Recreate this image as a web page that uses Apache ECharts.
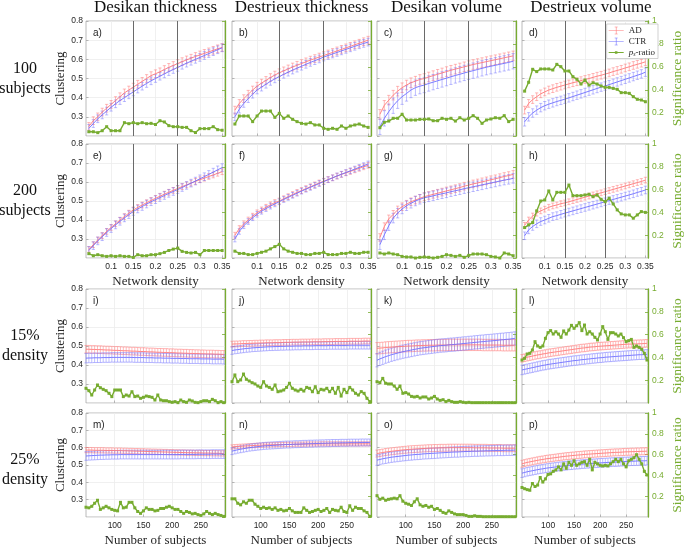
<!DOCTYPE html>
<html><head><meta charset="utf-8">
<script src="https://cdn.jsdelivr.net/npm/echarts@6/dist/echarts.min.js"></script>
<style>html,body{margin:0;padding:0;background:#fff}#c{width:685px;height:548px}</style>
</head><body><div id="c"></div>
<script>
// ---------- DATA ----------
const colTitles = ['Desikan thickness','Destrieux thickness','Desikan volume','Destrieux volume'];
const rowTitles = ['100\nsubjects','200\nsubjects','15%\ndensity','25%\ndensity'];
const panelLabels = ['a)','b)','c)','d)','e)','f)','g)','h)','i)','j)','k)','l)','m)','n)','o)','p)'];
const density = [0.05,0.06,0.07,0.08,0.09,0.10,0.11,0.12,0.13,0.14,0.15,0.16,0.17,0.18,0.19,0.20,0.21,0.22,0.23,0.24,0.25,0.26,0.27,0.28,0.29,0.30,0.31,0.32,0.33,0.34,0.35];
const subjects = [50,55,60,65,70,75,80,85,90,95,100,105,110,115,120,125,130,135,140,145,150,155,160,165,170,175,180,185,190,195,200,205,210,215,220,225,230,235,240,245,250,255,260,265,270,275,280,285,290];
const densityTicks = [0.1,0.15,0.2,0.25,0.3,0.35];
const subjectTicks = [100,150,200,250];
const densityMarks = [0.15,0.25];

// row 1: 100 subjects
const adA = [0.25,0.28,0.30,0.325,0.345,0.365,0.385,0.405,0.425,0.44,0.455,0.47,0.485,0.50,0.515,0.525,0.535,0.547,0.558,0.568,0.578,0.588,0.597,0.606,0.615,0.623,0.631,0.639,0.647,0.655,0.662];
const ctrA = [0.24,0.265,0.29,0.31,0.33,0.35,0.368,0.385,0.40,0.415,0.43,0.445,0.46,0.474,0.488,0.50,0.512,0.524,0.536,0.547,0.558,0.569,0.58,0.59,0.60,0.61,0.62,0.63,0.64,0.65,0.66];
const psA = [0.037,0.037,0.029,0.046,0.081,0.046,0.046,0.046,0.116,0.107,0.116,0.107,0.116,0.107,0.11,0.1,0.133,0.122,0.09,0.081,0.081,0.075,0.075,0.046,0.03,0.064,0.064,0.064,0.081,0.055,0.05];
const adB = [0.335,0.37,0.395,0.418,0.44,0.46,0.476,0.49,0.505,0.518,0.53,0.54,0.55,0.56,0.569,0.578,0.587,0.596,0.604,0.612,0.62,0.628,0.636,0.644,0.652,0.66,0.668,0.676,0.684,0.692,0.70];
const ctrB = [0.30,0.34,0.37,0.395,0.418,0.44,0.455,0.47,0.485,0.498,0.51,0.522,0.533,0.544,0.554,0.564,0.574,0.584,0.593,0.602,0.612,0.62,0.628,0.636,0.644,0.652,0.66,0.668,0.676,0.683,0.69];
const psB = [0.104,0.174,0.174,0.174,0.125,0.174,0.217,0.217,0.217,0.162,0.197,0.154,0.174,0.145,0.125,0.11,0.104,0.116,0.096,0.096,0.067,0.058,0.067,0.058,0.087,0.067,0.087,0.096,0.104,0.087,0.075];
const adC = [0.313,0.36,0.387,0.413,0.434,0.452,0.466,0.478,0.486,0.495,0.50,0.508,0.515,0.522,0.529,0.536,0.543,0.549,0.555,0.561,0.567,0.573,0.578,0.583,0.588,0.593,0.598,0.603,0.608,0.613,0.618];
const ctrC = [0.248,0.292,0.327,0.358,0.384,0.405,0.422,0.44,0.452,0.46,0.466,0.474,0.481,0.488,0.495,0.502,0.509,0.516,0.522,0.529,0.535,0.541,0.547,0.553,0.559,0.564,0.569,0.574,0.579,0.584,0.59];
const psC = [0.072,0.119,0.13,0.154,0.154,0.189,0.139,0.139,0.139,0.145,0.145,0.148,0.133,0.133,0.154,0.145,0.154,0.13,0.159,0.139,0.154,0.177,0.154,0.11,0.139,0.148,0.159,0.154,0.177,0.125,0.145];
const adD = [0.335,0.37,0.39,0.405,0.42,0.43,0.44,0.447,0.454,0.46,0.466,0.472,0.478,0.483,0.489,0.495,0.5,0.506,0.512,0.517,0.523,0.529,0.536,0.542,0.548,0.555,0.561,0.568,0.574,0.58,0.587];
const ctrD = [0.274,0.30,0.32,0.335,0.348,0.358,0.366,0.373,0.38,0.386,0.392,0.399,0.406,0.413,0.42,0.427,0.434,0.441,0.448,0.455,0.461,0.468,0.475,0.482,0.489,0.496,0.503,0.51,0.517,0.524,0.533];
const psD = [0.39,0.467,0.58,0.56,0.583,0.583,0.583,0.574,0.623,0.603,0.565,0.565,0.516,0.493,0.452,0.487,0.443,0.463,0.452,0.435,0.423,0.423,0.414,0.406,0.377,0.377,0.371,0.342,0.319,0.313,0.298];
// row 2: 200 subjects
const adE = [0.245,0.27,0.295,0.318,0.34,0.361,0.38,0.399,0.418,0.436,0.453,0.466,0.479,0.491,0.503,0.514,0.525,0.536,0.546,0.556,0.566,0.576,0.585,0.594,0.603,0.612,0.62,0.629,0.637,0.646,0.654];
const ctrE = [0.24,0.265,0.29,0.312,0.334,0.355,0.374,0.393,0.411,0.428,0.445,0.458,0.471,0.484,0.496,0.507,0.518,0.529,0.54,0.55,0.56,0.571,0.582,0.594,0.605,0.617,0.628,0.64,0.652,0.664,0.676];
const psE = [0.038,0.02,0.029,0.02,0.014,0.02,0.014,0.02,0.014,0.014,0.005,0.029,0.02,0.02,0.029,0.029,0.038,0.049,0.066,0.078,0.087,0.058,0.049,0.044,0.049,0.029,0.066,0.066,0.066,0.066,0.066];
const adF = [0.32,0.355,0.38,0.40,0.42,0.438,0.453,0.467,0.48,0.492,0.50,0.512,0.523,0.534,0.545,0.555,0.565,0.575,0.585,0.595,0.604,0.613,0.622,0.631,0.64,0.648,0.656,0.664,0.672,0.68,0.688];
const ctrF = [0.30,0.34,0.37,0.392,0.412,0.43,0.446,0.46,0.473,0.485,0.496,0.508,0.519,0.53,0.541,0.552,0.562,0.572,0.582,0.592,0.602,0.612,0.622,0.632,0.641,0.65,0.659,0.668,0.677,0.686,0.695];
const psF = [0.06,0.04,0.04,0.03,0.03,0.04,0.05,0.06,0.08,0.1,0.12,0.08,0.06,0.05,0.04,0.04,0.03,0.03,0.04,0.04,0.05,0.03,0.03,0.03,0.04,0.04,0.05,0.04,0.04,0.05,0.05];
const adG = [0.308,0.365,0.406,0.43,0.453,0.47,0.483,0.496,0.505,0.514,0.523,0.529,0.535,0.541,0.547,0.553,0.559,0.565,0.571,0.578,0.584,0.59,0.595,0.601,0.606,0.612,0.617,0.623,0.629,0.634,0.64];
const ctrG = [0.27,0.322,0.37,0.41,0.436,0.458,0.475,0.488,0.5,0.509,0.517,0.522,0.527,0.533,0.538,0.543,0.549,0.554,0.559,0.565,0.57,0.575,0.58,0.585,0.59,0.595,0.6,0.605,0.61,0.614,0.619];
const psG = [0.044,0.035,0.044,0.035,0.029,0.014,0.009,0.009,0,0.006,0.009,0.006,0,0.006,0.014,0.029,0.023,0.014,0.023,0.006,0.023,0.035,0.035,0.035,0.029,0.014,0.009,0,0.044,0.035,0.02];
const adH = [0.372,0.40,0.421,0.436,0.448,0.457,0.467,0.474,0.479,0.486,0.49,0.496,0.502,0.508,0.514,0.52,0.526,0.532,0.538,0.543,0.549,0.555,0.561,0.567,0.573,0.579,0.585,0.591,0.597,0.603,0.61];
const ctrH = [0.317,0.348,0.366,0.38,0.392,0.40,0.409,0.418,0.423,0.43,0.436,0.442,0.448,0.454,0.46,0.466,0.472,0.478,0.484,0.49,0.496,0.502,0.508,0.514,0.52,0.526,0.532,0.538,0.545,0.551,0.558];
const psH = [0.267,0.291,0.311,0.413,0.5,0.509,0.588,0.509,0.576,0.576,0.576,0.64,0.547,0.547,0.547,0.553,0.559,0.538,0.553,0.515,0.494,0.524,0.474,0.422,0.387,0.378,0.378,0.349,0.378,0.407,0.40];
// row 3: 15% density
const adI = [0.483,0.483,0.482,0.482,0.481,0.481,0.480,0.479,0.479,0.478,0.477,0.477,0.476,0.475,0.475,0.474,0.473,0.473,0.472,0.471,0.471,0.470,0.469,0.469,0.468,0.467,0.467,0.466,0.466,0.465,0.465,0.464,0.463,0.463,0.462,0.462,0.461,0.461,0.460,0.460,0.459,0.459,0.458,0.458,0.458,0.457,0.457,0.456,0.456];
const ctrI = [0.436,0.437,0.437,0.438,0.438,0.438,0.439,0.439,0.439,0.440,0.440,0.440,0.440,0.440,0.440,0.440,0.440,0.439,0.439,0.439,0.439,0.438,0.438,0.438,0.437,0.437,0.437,0.436,0.436,0.436,0.435,0.435,0.435,0.434,0.434,0.434,0.433,0.433,0.433,0.433,0.432,0.432,0.432,0.432,0.431,0.431,0.431,0.431,0.430];
const psI = [0.129,0.108,0.07,0.114,0.158,0.134,0.12,0.108,0.085,0.056,0.114,0.114,0.114,0.056,0.07,0.061,0.099,0.056,0.061,0.041,0.05,0.061,0.056,0.05,0.026,0.07,0.026,0.02,0.02,0.012,0.006,0.012,0.003,0.026,0.012,0.006,0.026,0.018,0.006,0.003,0.012,0.02,0.02,0.012,0.032,0.02,0.003,0.012,0.003];
const adJ = [0.510,0.511,0.511,0.512,0.513,0.513,0.514,0.514,0.515,0.515,0.516,0.516,0.517,0.517,0.517,0.518,0.518,0.518,0.519,0.519,0.519,0.520,0.520,0.520,0.521,0.521,0.521,0.521,0.522,0.522,0.522,0.522,0.523,0.523,0.523,0.523,0.524,0.524,0.524,0.524,0.524,0.525,0.525,0.525,0.525,0.525,0.526,0.526,0.526];
const ctrJ = [0.476,0.479,0.481,0.483,0.485,0.487,0.488,0.490,0.491,0.492,0.493,0.494,0.495,0.496,0.496,0.497,0.497,0.498,0.498,0.499,0.499,0.499,0.500,0.500,0.500,0.501,0.501,0.501,0.501,0.502,0.502,0.502,0.502,0.502,0.503,0.503,0.503,0.503,0.503,0.503,0.503,0.504,0.504,0.504,0.504,0.504,0.504,0.504,0.504];
const psJ = [0.187,0.246,0.187,0.202,0.254,0.208,0.193,0.178,0.167,0.149,0.137,0.187,0.149,0.137,0.12,0.158,0.099,0.105,0.114,0.137,0.173,0.129,0.114,0.105,0.12,0.105,0.137,0.129,0.099,0.143,0.091,0.12,0.114,0.129,0.099,0.129,0.085,0.137,0.061,0.12,0.091,0.137,0.114,0.085,0.07,0.1,0.085,0.041,0.012];
const adK = [0.488,0.489,0.490,0.492,0.493,0.494,0.495,0.496,0.497,0.498,0.499,0.500,0.500,0.501,0.502,0.502,0.503,0.503,0.504,0.504,0.504,0.505,0.505,0.505,0.505,0.506,0.506,0.506,0.506,0.506,0.506,0.506,0.506,0.506,0.506,0.506,0.506,0.505,0.505,0.505,0.505,0.505,0.505,0.505,0.504,0.504,0.504,0.504,0.504];
const ctrK = [0.425,0.432,0.438,0.444,0.449,0.454,0.458,0.462,0.466,0.470,0.473,0.476,0.479,0.482,0.485,0.488,0.490,0.492,0.494,0.496,0.498,0.500,0.502,0.503,0.504,0.506,0.507,0.508,0.510,0.511,0.513,0.514,0.516,0.517,0.519,0.520,0.522,0.523,0.525,0.526,0.527,0.529,0.530,0.532,0.533,0.535,0.536,0.538,0.540];
const psK = [0.187,0.178,0.216,0.173,0.167,0.167,0.149,0.12,0.149,0.085,0.091,0.079,0.058,0.053,0.058,0.044,0.053,0.053,0.035,0.044,0.058,0.035,0.023,0.029,0.012,0.023,0.012,0.006,0.006,0.012,0.006,0.003,0.006,0.003,0.003,0.003,0.003,0.003,0.003,0.003,0.003,0.003,0.003,0.003,0.003,0.003,0.003,0.003,0.003];
const adL = [0.435,0.438,0.441,0.444,0.447,0.450,0.453,0.455,0.458,0.460,0.463,0.465,0.467,0.469,0.471,0.473,0.475,0.477,0.479,0.481,0.483,0.485,0.487,0.489,0.490,0.492,0.494,0.495,0.496,0.498,0.499,0.500,0.501,0.502,0.503,0.504,0.505,0.506,0.507,0.508,0.509,0.510,0.510,0.511,0.511,0.512,0.512,0.513,0.514];
const ctrL = [0.374,0.377,0.380,0.383,0.386,0.389,0.392,0.395,0.398,0.400,0.403,0.405,0.407,0.409,0.411,0.413,0.415,0.417,0.419,0.421,0.423,0.424,0.426,0.428,0.429,0.431,0.432,0.434,0.435,0.437,0.438,0.439,0.441,0.442,0.443,0.444,0.445,0.446,0.447,0.448,0.449,0.450,0.451,0.452,0.453,0.454,0.454,0.455,0.456];
const psL = [0.377,0.392,0.43,0.436,0.465,0.538,0.5,0.488,0.5,0.567,0.617,0.635,0.605,0.625,0.605,0.576,0.632,0.605,0.64,0.681,0.655,0.678,0.705,0.635,0.684,0.605,0.625,0.605,0.576,0.553,0.605,0.67,0.625,0.558,0.617,0.617,0.605,0.588,0.605,0.573,0.538,0.547,0.558,0.488,0.5,0.488,0.471,0.436,0.377];
// row 4: 25% density
const adM = [0.586,0.586,0.586,0.585,0.585,0.585,0.585,0.584,0.584,0.584,0.583,0.583,0.583,0.582,0.582,0.581,0.581,0.580,0.580,0.579,0.579,0.578,0.578,0.577,0.577,0.576,0.576,0.575,0.575,0.574,0.574,0.573,0.573,0.572,0.572,0.571,0.571,0.571,0.570,0.570,0.570,0.569,0.569,0.569,0.568,0.568,0.568,0.567,0.567];
const ctrM = [0.552,0.553,0.554,0.555,0.556,0.557,0.557,0.558,0.558,0.559,0.559,0.559,0.560,0.560,0.560,0.560,0.560,0.560,0.560,0.560,0.560,0.560,0.560,0.560,0.560,0.560,0.560,0.560,0.560,0.560,0.560,0.560,0.560,0.561,0.561,0.561,0.561,0.561,0.561,0.562,0.562,0.562,0.562,0.562,0.563,0.563,0.563,0.563,0.563];
const psM = [0.094,0.088,0.103,0.132,0.161,0.073,0.088,0.103,0.088,0.073,0.064,0.059,0.141,0.088,0.094,0.141,0.141,0.088,0.053,0.035,0.059,0.088,0.073,0.073,0.059,0.064,0.082,0.082,0.094,0.103,0.088,0.073,0.073,0.053,0.035,0.053,0.044,0.03,0.035,0.023,0.015,0.03,0.053,0.035,0.023,0.035,0.023,0.015,0.006];
const adN = [0.604,0.606,0.607,0.608,0.609,0.610,0.611,0.612,0.613,0.614,0.614,0.615,0.616,0.616,0.617,0.617,0.618,0.618,0.618,0.619,0.619,0.619,0.620,0.620,0.620,0.620,0.621,0.621,0.621,0.621,0.621,0.622,0.622,0.622,0.622,0.622,0.622,0.622,0.622,0.622,0.622,0.622,0.622,0.622,0.622,0.622,0.622,0.622,0.622];
const ctrN = [0.580,0.584,0.588,0.591,0.594,0.597,0.600,0.602,0.604,0.606,0.608,0.610,0.611,0.612,0.613,0.614,0.615,0.616,0.617,0.618,0.618,0.619,0.620,0.620,0.621,0.622,0.622,0.623,0.623,0.624,0.624,0.625,0.625,0.626,0.626,0.627,0.627,0.627,0.628,0.628,0.628,0.629,0.629,0.629,0.629,0.630,0.630,0.630,0.630];
const psN = [0.175,0.175,0.132,0.117,0.146,0.132,0.161,0.161,0.123,0.103,0.082,0.094,0.082,0.088,0.073,0.088,0.064,0.073,0.059,0.064,0.082,0.059,0.044,0.044,0.044,0.088,0.064,0.044,0.053,0.064,0.073,0.053,0.064,0.082,0.044,0.073,0.064,0.059,0.094,0.053,0.044,0.108,0.064,0.094,0.082,0.082,0.059,0.044,0.006];
const adO = [0.566,0.569,0.572,0.575,0.577,0.579,0.581,0.583,0.585,0.587,0.588,0.590,0.591,0.592,0.593,0.594,0.595,0.596,0.597,0.597,0.598,0.598,0.599,0.599,0.599,0.600,0.600,0.600,0.600,0.600,0.600,0.600,0.600,0.600,0.599,0.599,0.599,0.599,0.599,0.598,0.598,0.598,0.598,0.598,0.597,0.597,0.597,0.597,0.597];
const ctrO = [0.528,0.532,0.536,0.539,0.542,0.545,0.547,0.549,0.551,0.553,0.555,0.557,0.558,0.560,0.561,0.562,0.564,0.565,0.566,0.567,0.568,0.569,0.570,0.571,0.572,0.573,0.574,0.575,0.575,0.576,0.577,0.578,0.578,0.579,0.580,0.580,0.581,0.581,0.582,0.582,0.583,0.583,0.584,0.584,0.584,0.585,0.585,0.585,0.586];
const psO = [0.205,0.17,0.181,0.161,0.17,0.175,0.181,0.175,0.205,0.152,0.132,0.123,0.111,0.146,0.175,0.117,0.103,0.111,0.094,0.103,0.073,0.082,0.064,0.044,0.035,0.059,0.044,0.03,0.023,0.023,0.023,0.015,0.006,0.006,0.012,0.006,0.006,0.003,0.003,0.003,0.003,0.003,0.003,0.003,0.003,0.003,0.003,0.003,0.003];
const adP = [0.507,0.511,0.515,0.518,0.521,0.524,0.527,0.530,0.532,0.535,0.537,0.539,0.541,0.543,0.545,0.547,0.549,0.551,0.552,0.554,0.555,0.557,0.558,0.559,0.561,0.562,0.563,0.564,0.565,0.566,0.567,0.568,0.569,0.570,0.571,0.572,0.573,0.573,0.574,0.575,0.576,0.576,0.577,0.577,0.578,0.578,0.579,0.579,0.580];
const ctrP = [0.453,0.457,0.461,0.464,0.467,0.470,0.473,0.476,0.478,0.481,0.483,0.485,0.487,0.489,0.491,0.493,0.495,0.496,0.498,0.499,0.501,0.502,0.503,0.505,0.506,0.507,0.508,0.509,0.510,0.511,0.512,0.513,0.514,0.515,0.516,0.517,0.517,0.518,0.519,0.520,0.520,0.521,0.522,0.522,0.523,0.523,0.524,0.524,0.525];
const psP = [0.284,0.272,0.263,0.257,0.322,0.293,0.307,0.38,0.336,0.366,0.409,0.415,0.439,0.453,0.482,0.453,0.511,0.468,0.526,0.497,0.541,0.497,0.511,0.526,0.532,0.497,0.555,0.453,0.526,0.511,0.497,0.491,0.497,0.491,0.511,0.532,0.555,0.532,0.555,0.511,0.482,0.541,0.555,0.57,0.599,0.555,0.511,0.439,0.404];

// error bar half-lengths per panel a..p
const adErr  = [0.02,0.02,0.025,0.02, 0.015,0.015,0.02,0.015, 0.02,0.015,0.03,0.02, 0.015,0.012,0.02,0.02];
const ctrErr = [0.02,0.02,0.04,0.022, 0.02,0.015,0.025,0.02, 0.025,0.02,0.035,0.025, 0.025,0.02,0.03,0.025];

// ---------- BUILD ----------
const AD = [adA,adB,adC,adD,adE,adF,adG,adH,adI,adJ,adK,adL,adM,adN,adO,adP];
const CTR = [ctrA,ctrB,ctrC,ctrD,ctrE,ctrF,ctrG,ctrH,ctrI,ctrJ,ctrK,ctrL,ctrM,ctrN,ctrO,ctrP];
const PS = [psA,psB,psC,psD,psE,psF,psG,psH,psI,psJ,psK,psL,psM,psN,psO,psP];

const colLeft = [86,232,377,522], colW = [139,139,139,138];
const rowTop = [21,144,289,413], rowH = [115,114,114,114];
const SANS = 'Liberation Sans', SERIF = 'Liberation Serif';
const GREEN = '#77AC30', TXT = '#262626';
const AD_LINE = '#ff7878', AD_BAR = 'rgba(255,110,110,0.6)';
const CTR_LINE = '#6e6eff', CTR_BAR = 'rgba(105,105,255,0.55)';

function errItem(color){
  return function(params, api){
    const x = api.value(0), y = api.value(1), e = api.value(2);
    const lo = api.coord([x, y - e]), hi = api.coord([x, y + e]);
    const w = 1.6;
    const st = {stroke: color, lineWidth: 0.8};
    return {type:'group', children:[
      {type:'line', shape:{x1:lo[0],y1:lo[1],x2:hi[0],y2:hi[1]}, style:st},
      {type:'line', shape:{x1:lo[0]-w,y1:lo[1],x2:lo[0]+w,y2:lo[1]}, style:st},
      {type:'line', shape:{x1:hi[0]-w,y1:hi[1],x2:hi[0]+w,y2:hi[1]}, style:st}
    ]};
  };
}

const grids = [], xAxes = [], yAxes = [], series = [], graphics = [];
for (let p = 0; p < 16; p++) {
  const r = Math.floor(p / 4), c = p % 4;
  const xs = r < 2 ? density : subjects;
  const ticks = r < 2 ? densityTicks : subjectTicks;
  grids.push({left: colLeft[c], top: rowTop[r], width: colW[c], height: rowH[r],
    show: true, borderColor: '#a8a8a8', borderWidth: 0.8, backgroundColor: '#fff'});
  xAxes.push({gridIndex: p, type: 'value',
    min: r < 2 ? 0.0435 : 50, max: r < 2 ? 0.3565 : 292,
    axisLine: {show: false},
    axisTick: {show: true, inside: true, length: 2.5, customValues: ticks, lineStyle: {color: '#9a9a9a', width: 0.7}},
    axisLabel: {show: r === 1 || r === 3, customValues: ticks, fontFamily: SANS, fontSize: 8.5, color: TXT, margin: 4},
    splitLine: {show: true, lineStyle: {color: '#ececec', width: 0.8}},
    name: r === 1 ? 'Network density' : (r === 3 ? 'Number of subjects' : ''),
    nameLocation: 'middle', nameGap: 17,
    nameTextStyle: {fontFamily: SERIF, fontSize: 13, color: TXT}
  });
  yAxes.push({gridIndex: p, type: 'value', position: 'left', min: 0.2, max: 0.8, interval: 0.1,
    axisLine: {show: false},
    axisTick: {show: true, inside: true, length: 2.5, lineStyle: {color: '#9a9a9a', width: 0.7}},
    axisLabel: {show: c === 0, showMinLabel: false, fontFamily: SANS, fontSize: 8.5, color: TXT, margin: 3},
    splitLine: {show: true, lineStyle: {color: '#ececec', width: 0.8}},
    name: c === 0 ? 'Clustering' : '', nameLocation: 'middle', nameGap: 11, nameRotate: 90,
    nameTextStyle: {fontFamily: SERIF, fontSize: 13, color: TXT}
  });
  yAxes.push({gridIndex: p, type: 'value', position: 'right', min: 0, max: 1, interval: 0.2,
    axisLine: {show: true, lineStyle: {color: GREEN, width: 1.3}},
    axisTick: {show: true, inside: true, length: 3, lineStyle: {color: GREEN, width: 0.8}},
    axisLabel: {show: c === 3, showMinLabel: false, fontFamily: SANS, fontSize: 8.5, color: GREEN, margin: 4},
    splitLine: {show: false},
    name: c === 3 ? 'Significance ratio' : '', nameLocation: 'middle', nameGap: 22, nameRotate: 90,
    nameTextStyle: {fontFamily: SERIF, fontSize: 13.5, color: GREEN}
  });
  const ad = AD[p], ctr = CTR[p], ps = PS[p];
  const yl = 2 * p, yr = 2 * p + 1;
  series.push({type: 'custom', xAxisIndex: p, yAxisIndex: yl, silent: true, z: 2,
    renderItem: errItem(AD_BAR), data: ad.map((v, i) => [xs[i], v, adErr[p]])});
  series.push({type: 'custom', xAxisIndex: p, yAxisIndex: yl, silent: true, z: 2,
    renderItem: errItem(CTR_BAR), data: ctr.map((v, i) => [xs[i], v, ctrErr[p]])});
  const adSeries = {type: 'line', name: 'AD', xAxisIndex: p, yAxisIndex: yl, symbol: 'none', silent: true, z: 3,
    lineStyle: {color: AD_LINE, width: 0.9}, itemStyle: {color: AD_LINE},
    data: ad.map((v, i) => [xs[i], v])};
  if (r < 2) {
    adSeries.markLine = {silent: true, symbol: ['none','none'], label: {show: false},
      lineStyle: {color: '#6a6a6a', width: 1, type: 'solid'},
      data: densityMarks.map(v => ({xAxis: v}))};
  }
  series.push(adSeries);
  series.push({type: 'line', name: 'CTR', xAxisIndex: p, yAxisIndex: yl, symbol: 'none', silent: true, z: 3,
    lineStyle: {color: CTR_LINE, width: 0.9}, itemStyle: {color: CTR_LINE},
    data: ctr.map((v, i) => [xs[i], v])});
  series.push({type: 'line', name: 'ps', xAxisIndex: p, yAxisIndex: yr, symbol: 'rect', symbolSize: 3, silent: true, z: 5,
    lineStyle: {color: GREEN, width: 1.4}, itemStyle: {color: GREEN},
    data: ps.map((v, i) => [xs[i], v])});
  graphics.push({type: 'text', left: colLeft[c] + 7, top: rowTop[r] + 7,
    style: {text: panelLabels[p], font: '10px ' + SANS, fill: TXT}, z: 10});
}
for (let c = 0; c < 4; c++) {
  graphics.push({type: 'text', x: colLeft[c] + colW[c] / 2, y: 8,
    style: {text: colTitles[c], font: '17px ' + SERIF, fill: '#111', align: 'center', verticalAlign: 'middle'}});
}
for (let r = 0; r < 4; r++) {
  graphics.push({type: 'text', x: 25, y: rowTop[r] + rowH[r] / 2,
    style: {text: rowTitles[r], font: '16px ' + SERIF, fill: '#111', align: 'center', verticalAlign: 'middle', lineHeight: 20}});
}

const errIcon = 'path://M0,4.6H20V5.4H0Z M9.6,0H10.4V10H9.6Z M8,0H12V0.8H8Z M8,9.2H12V10H8Z';
const psIcon = 'path://M0,4.4H20V5.6H0Z M8.3,3.3H11.7V6.7H8.3Z';
const chart = echarts.init(document.getElementById('c'), null, {renderer: 'canvas'});
chart.setOption({
  animation: false,
  grid: grids, xAxis: xAxes, yAxis: yAxes, series: series, graphic: graphics,
  legend: {data: [{name: 'AD', icon: errIcon}, {name: 'CTR', icon: errIcon}, {name: 'ps', icon: psIcon}],
    right: 27, top: 24, orient: 'vertical', selectedMode: false,
    itemWidth: 15, itemHeight: 8, itemGap: 2, padding: [2, 3, 1, 2],
    backgroundColor: '#fff', borderColor: '#bdbdbd', borderWidth: 0.7,
    textStyle: {fontFamily: SERIF, fontSize: 9, color: TXT,
      rich: {i: {fontFamily: SERIF, fontStyle: 'italic', fontSize: 9, color: TXT},
             s: {fontFamily: SERIF, fontStyle: 'italic', fontSize: 6, color: TXT, padding: [4, 0, 0, 0]},
             n: {fontFamily: SERIF, fontSize: 9, color: TXT}}},
    formatter: function(name){ return name === 'ps' ? '{i|p}{s|s}{n|-ratio}' : name; }
  }
});
</script></body></html>
